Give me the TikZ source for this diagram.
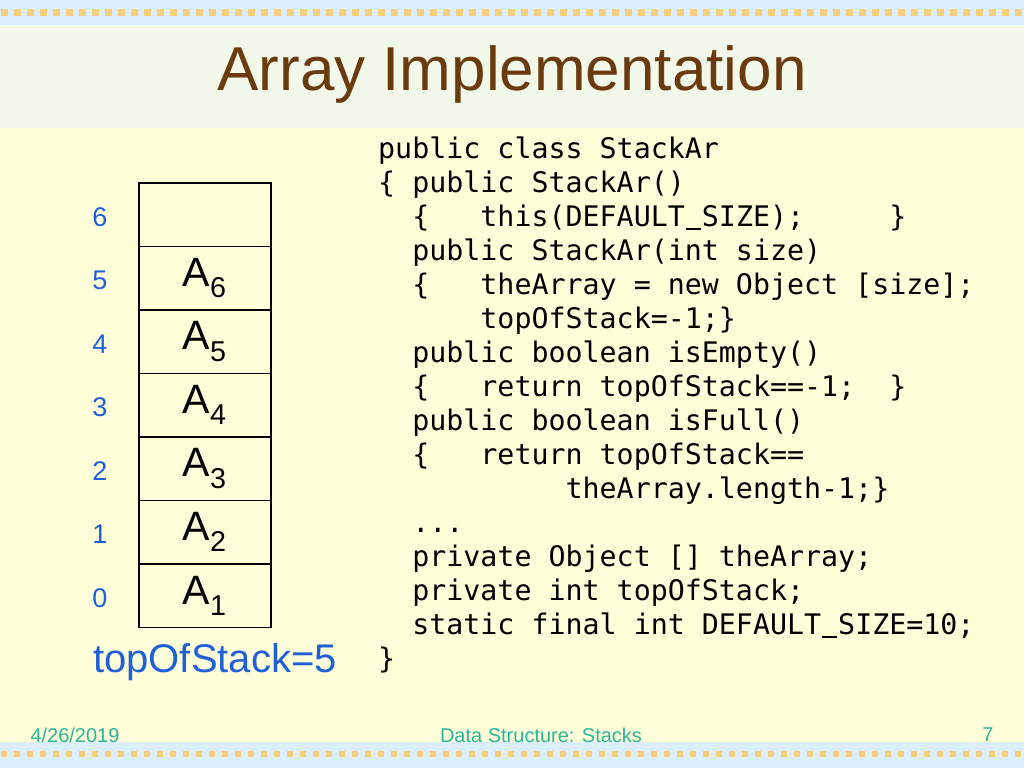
\documentclass[tikz,border=0pt]{standalone}
\usepackage{fontspec}
\setmainfont{Liberation Sans}
\newfontfamily\codefont{DejaVu Sans Mono}
\newcommand{\us}{\makebox[0.602em]{\rule[-0.12em]{0.55em}{0.07em}}}
\definecolor{bandblue}{HTML}{DDEEFB}
\definecolor{titlebg}{HTML}{F3F9EA}
\definecolor{bodybg}{HTML}{FFFFD9}
\definecolor{dotc}{HTML}{F5CF7E}
\definecolor{titlec}{HTML}{6B3A0E}
\definecolor{idxc}{HTML}{1F5FD8}
\definecolor{footc}{HTML}{2BB59A}
\begin{document}
\begin{tikzpicture}[x=1pt,y=-1pt,
  cell/.style={draw,line width=1.5pt,minimum width=132pt,minimum height=63.5pt,inner sep=0pt,anchor=north west,font=\fontsize{41}{44}\selectfont},
  idx/.style={text=idxc,font=\fontsize{27}{30}\selectfont},
  foot/.style={text=footc,font=\fontsize{20}{23}\selectfont}]
\useasboundingbox (0,0) rectangle (1024,768);
\fill[bodybg] (0,0) rectangle (1024,768);
\fill[bandblue] (0,0) rectangle (1024,25);
\fill[titlebg] (0,25) rectangle (1024,128);
\fill[bandblue] (0,742) rectangle (1024,768);
\foreach \i in {0,...,78} {\fill[dotc] (\i*13+0.5,9) rectangle +(7,7);}
\foreach \i in {0,...,78} {\fill[dotc] (\i*13+0.5,750.5) rectangle +(6,6);}
\node[text=titlec,font=\fontsize{62}{66}\selectfont] (title) at (512,74) {Array Implementation};
\foreach \r/\t [count=\k from 0] in {6/{},5/{A\textsubscript{6}},4/{A\textsubscript{5}},3/{A\textsubscript{4}},2/{A\textsubscript{3}},1/{A\textsubscript{2}},0/{A\textsubscript{1}}} {
  \node[cell] (c\r) at (138,182+\k*63.5) {\t};
  \node[idx] (i\r) at (100,217+\k*63.5) {\r};
}
\node[text=idxc,font=\fontsize{40}{44}\selectfont] (tos) at (215,662) {topOfStack=5};
\node[anchor=north west,inner sep=0pt,font=\codefont\fontsize{28.3}{34}\selectfont,align=left] (code) at (378,137) {%
public class StackAr\\
\{ public StackAr()\\
\ \ \{\ \ \ this(DEFAULT\us SIZE);\ \ \ \ \ \}\\
\ \ public StackAr(int size)\\
\ \ \{\ \ \ theArray = new Object [size];\\
\ \ \ \ \ \ topOfStack=-1;\}\\
\ \ public boolean isEmpty()\\
\ \ \{\ \ \ return topOfStack==-1;\ \ \}\\
\ \ public boolean isFull()\\
\ \ \{\ \ \ return topOfStack==\\
\ \ \ \ \ \ \ \ \ \ \ theArray.length-1;\}\\
\ \ ...\\
\ \ private Object [] theArray;\\
\ \ private int topOfStack;\\
\ \ static final int DEFAULT\us SIZE=10;\\
\}};
\node[foot] (date) at (75,735) {4/26/2019};
\node[foot] (sub) at (541,735) {Data Structure: Stacks};
\node[foot] (pg) at (988,735) {7};
\end{tikzpicture}
\end{document}
